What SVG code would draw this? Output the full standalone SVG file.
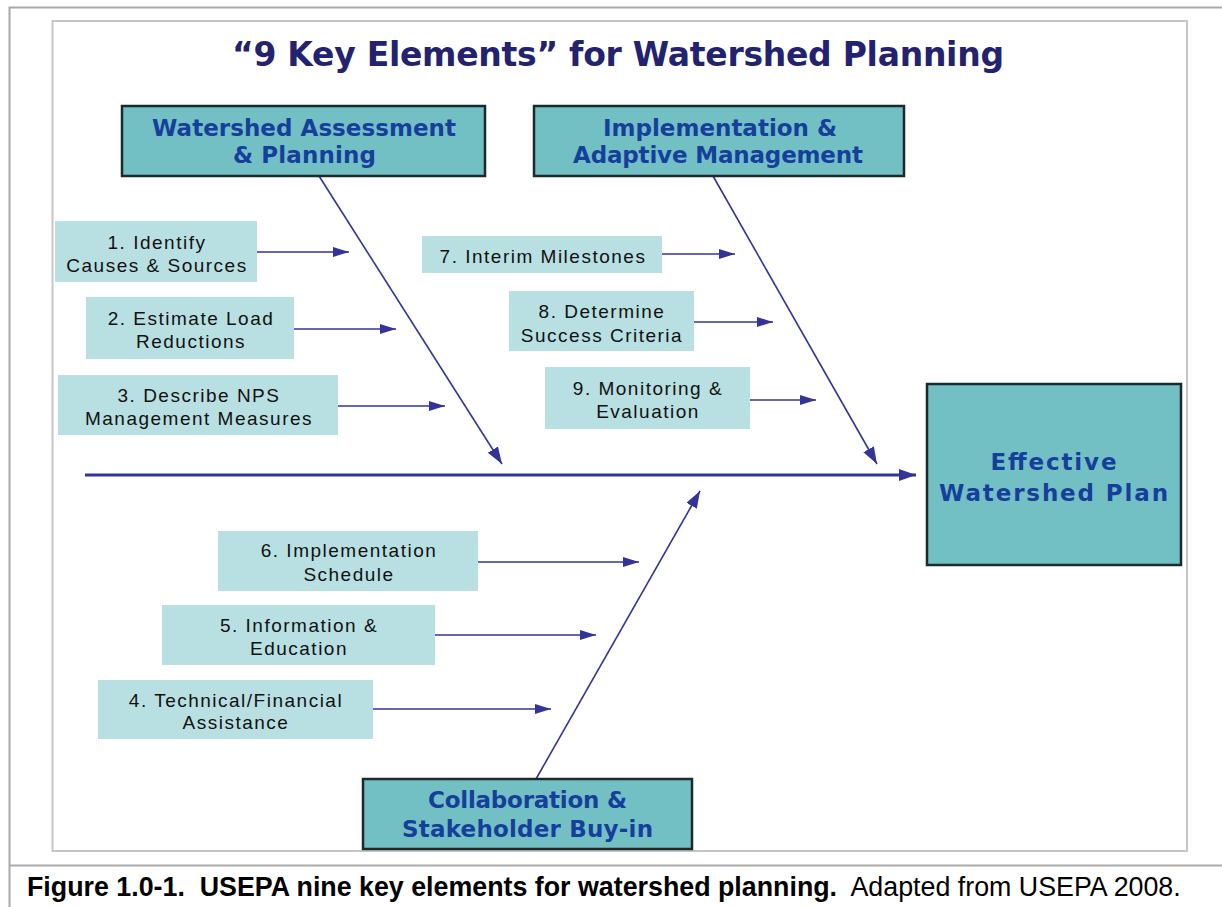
<svg xmlns="http://www.w3.org/2000/svg" width="1222" height="907" viewBox="0 0 1222 907">
<style>
.frame{fill:none;stroke:#a9a9a9;stroke-width:2}
.inner{fill:none;stroke:#c6c6c6;stroke-width:2}
.main{fill:#72bfc4;stroke:#1b2a2a;stroke-width:2.5}
.mt{font-family:"DejaVu Sans",Verdana,sans-serif;font-weight:bold;font-size:23px;fill:#163f9b;text-anchor:middle}
.lab{fill:#b8e0e2}
.lt{font-family:"Liberation Sans",Arial,sans-serif;font-size:19px;letter-spacing:1.5px;fill:#111;text-anchor:middle}
.con{stroke:#333399;stroke-width:1.6;fill:none}
.spine{stroke:#333399;stroke-width:3;fill:none}
</style>
<defs>
<marker id="ah" markerUnits="userSpaceOnUse" markerWidth="17" markerHeight="11" refX="16" refY="5" orient="auto">
<path d="M0,0 L16,5 L0,10 z" fill="#333399"/>
</marker>
<marker id="ahb" markerUnits="userSpaceOnUse" markerWidth="18" markerHeight="13" refX="17" refY="6" orient="auto">
<path d="M0,0 L17,6 L0,12 z" fill="#333399"/>
</marker>
</defs>
<rect width="1222" height="907" fill="#fff"/>
<g id="frame">
<path class="frame" d="M9.5,907 V7.5 H1222 M9.5,865.5 H1222"/>
<rect class="inner" x="52.5" y="21" width="1134.5" height="830"/>
</g>
<g id="title">
<text x="618" y="66" font-family="'DejaVu Sans',Verdana,sans-serif" font-weight="bold" font-size="33" fill="#222270" text-anchor="middle" textLength="772">“9 Key Elements” for Watershed Planning</text>
</g>
<g id="connectors">
<line class="spine" x1="85" y1="475" x2="916" y2="475" marker-end="url(#ahb)"/>
<line class="con" x1="319" y1="176" x2="502" y2="464" marker-end="url(#ahb)"/>
<line class="con" x1="713" y1="176" x2="877" y2="464" marker-end="url(#ahb)"/>
<line class="con" x1="536" y1="779" x2="700" y2="491" marker-end="url(#ahb)"/>
<line class="con" x1="257" y1="252" x2="349" y2="252" marker-end="url(#ah)"/>
<line class="con" x1="294" y1="329" x2="396" y2="329" marker-end="url(#ah)"/>
<line class="con" x1="338" y1="406" x2="445" y2="406" marker-end="url(#ah)"/>
<line class="con" x1="662" y1="254" x2="735" y2="254" marker-end="url(#ah)"/>
<line class="con" x1="694" y1="322" x2="773" y2="322" marker-end="url(#ah)"/>
<line class="con" x1="750" y1="400" x2="816" y2="400" marker-end="url(#ah)"/>
<line class="con" x1="478" y1="562" x2="639" y2="562" marker-end="url(#ah)"/>
<line class="con" x1="435" y1="635" x2="596" y2="635" marker-end="url(#ah)"/>
<line class="con" x1="373" y1="709" x2="551" y2="709" marker-end="url(#ah)"/>
</g>
<g id="assessment">
<rect class="main" x="122" y="106" width="363" height="70"/>
<text class="mt" x="304" y="136" textLength="304">Watershed Assessment</text>
<text class="mt" x="304.5" y="163" textLength="143">&amp; Planning</text>
</g>
<g id="implementation">
<rect class="main" x="534" y="106" width="370" height="70"/>
<text class="mt" x="720" y="136" textLength="234">Implementation &amp;</text>
<text class="mt" x="718" y="163" textLength="290">Adaptive Management</text>
</g>
<g id="effective">
<rect class="main" x="927" y="384" width="254" height="181"/>
<text class="mt" x="1053.5" y="470" font-size="25.5" textLength="126">Effective</text>
<text class="mt" x="1053.5" y="501" font-size="25.5" textLength="229">Watershed Plan</text>
</g>
<g id="collaboration">
<rect class="main" x="363" y="779" width="329" height="70"/>
<text class="mt" x="527.5" y="808" textLength="199">Collaboration &amp;</text>
<text class="mt" x="527.5" y="837" textLength="251">Stakeholder Buy-in</text>
</g>
<g id="e1">
<rect class="lab" x="55" y="221" width="202" height="61"/>
<text class="lt" x="157" y="249">1. Identify</text>
<text class="lt" x="157" y="272">Causes &amp; Sources</text>
</g>
<g id="e2">
<rect class="lab" x="86" y="297" width="208" height="62"/>
<text class="lt" x="191" y="325">2. Estimate Load</text>
<text class="lt" x="191" y="348">Reductions</text>
</g>
<g id="e3">
<rect class="lab" x="58" y="375" width="280" height="60"/>
<text class="lt" x="199" y="402">3. Describe NPS</text>
<text class="lt" x="199" y="425">Management Measures</text>
</g>
<g id="e7">
<rect class="lab" x="422" y="236" width="240" height="37"/>
<text class="lt" x="543" y="263">7. Interim Milestones</text>
</g>
<g id="e8">
<rect class="lab" x="509" y="291" width="185" height="60"/>
<text class="lt" x="602" y="318">8. Determine</text>
<text class="lt" x="602" y="342">Success Criteria</text>
</g>
<g id="e9">
<rect class="lab" x="545" y="367" width="205" height="62"/>
<text class="lt" x="648" y="395">9. Monitoring &amp;</text>
<text class="lt" x="648" y="418">Evaluation</text>
</g>
<g id="e6">
<rect class="lab" x="218" y="531" width="260" height="60"/>
<text class="lt" x="349" y="557">6. Implementation</text>
<text class="lt" x="349" y="581">Schedule</text>
</g>
<g id="e5">
<rect class="lab" x="162" y="605" width="273" height="60"/>
<text class="lt" x="299" y="632">5. Information &amp;</text>
<text class="lt" x="299" y="655">Education</text>
</g>
<g id="e4">
<rect class="lab" x="98" y="680" width="275" height="59"/>
<text class="lt" x="236" y="707">4. Technical/Financial</text>
<text class="lt" x="236" y="729">Assistance</text>
</g>
<g id="caption">
<text x="27" y="896" xml:space="preserve" font-family="'Liberation Sans',Arial,sans-serif" font-size="26.8" fill="#000"><tspan font-weight="bold">Figure 1.0-1.  USEPA nine key elements for watershed planning.</tspan>  Adapted from USEPA 2008.</text>
</g>
</svg>
